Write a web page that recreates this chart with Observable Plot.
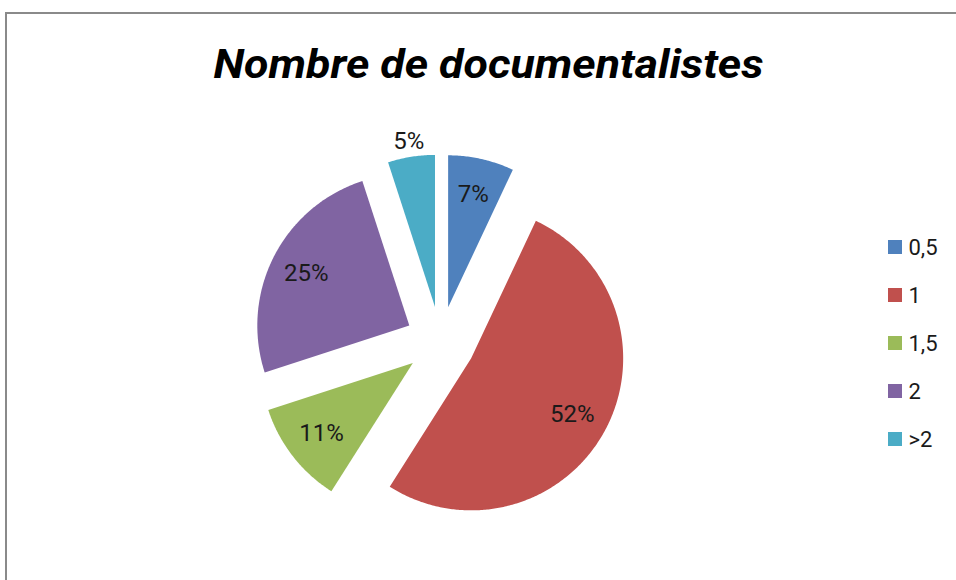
<!DOCTYPE html>
<html>
<head>
<meta charset="utf-8">
<script src="https://cdn.jsdelivr.net/npm/d3@7"></script>
<script src="https://cdn.jsdelivr.net/npm/@observablehq/plot@0.6"></script>
<style>
  html, body { margin: 0; padding: 0; background: #fff; overflow: hidden; }
  #wrap { position: relative; width: 956px; height: 580px; overflow: hidden; }
  #border { position: absolute; left: 5px; top: 12px; width: 1000px; height: 1000px;
            border-top: 2px solid #8a8a8a; border-left: 2px solid #8a8a8a; }
  #chart { position: absolute; left: 0; top: 0; }
</style>
</head>
<body>
<div id="wrap"><div id="border"></div><div id="chart"></div></div>
<script>
// ---- data ----
const title = "Nombre de documentalistes";
const categories = ["0,5", "1", "1,5", "2", ">2"];
const values = [7, 52, 11, 25, 5];
const percentLabels = ["7%", "52%", "11%", "25%", "5%"];
const palette = ["#4F81BD", "#C0504D", "#9BBB59", "#8064A2", "#4BACC6"];

// ---- layout ----
const W = 956, H = 580;
const cx = 440, cy = 341, R = 152, explode = 35;
const legendX = 888, legendY0 = 247, legendStep = 48, sw = 14;

const rows = categories.map((c, i) => ({category: c, value: values[i], label: percentLabels[i]}));
const arcs = d3.pie().sort(null).value(d => d.value)(rows);
const dir = a => [Math.sin(a), -Math.cos(a)];

const poly = [];
const labels = [];
arcs.forEach(a => {
  const mid = (a.startAngle + a.endAngle) / 2;
  const [mx, my] = dir(mid);
  const ax = cx + explode * mx, ay = cy + explode * my;
  poly.push({category: a.data.category, x: ax, y: ay});
  const n = Math.max(8, Math.ceil((a.endAngle - a.startAngle) / 0.01));
  for (let k = 0; k <= n; k++) {
    const t = a.startAngle + (a.endAngle - a.startAngle) * k / n;
    const [dx, dy] = dir(t);
    poly.push({category: a.data.category, x: ax + R * dx, y: ay + R * dy});
  }
  const lr = a.data.value < 6 ? 1.1 * R : 0.76 * R;
  labels.push({text: a.data.label, x: ax + lr * mx, y: ay + lr * my});
});

const legend = categories.map((c, i) => ({category: c, y: legendY0 + i * legendStep}));

const chart = Plot.plot({
  width: W, height: H, margin: 0,
  style: {fontFamily: "Roboto, 'Open Sans', sans-serif", background: "transparent", overflow: "visible"},
  x: {type: "identity", axis: null},
  y: {type: "identity", axis: null},
  color: {domain: categories, range: palette},
  marks: [
    Plot.line(poly, {x: "x", y: "y", z: "category", fill: "category", stroke: "none", curve: "linear-closed"}),
    Plot.text(labels, {x: "x", y: "y", text: "text", fontSize: 24, fill: "#1a1a1a"}),
    Plot.rect(legend, {x1: legendX, x2: legendX + sw, y1: d => d.y - sw / 2, y2: d => d.y + sw / 2, fill: "category"}),
    Plot.text(legend, {x: legendX + sw + 6, y: "y", text: "category", textAnchor: "start", fontSize: 22, fill: "#1a1a1a"}),
    Plot.text([title], {x: 488, y: 65, text: d => d, fontSize: 40, fontWeight: "bold", fontStyle: "italic", fill: "#000"})
  ]
});
document.getElementById("chart").appendChild(chart);
d3.select(chart).selectAll("text").filter(function() { return this.textContent === title; })
  .attr("textLength", 550).attr("lengthAdjust", "spacingAndGlyphs");
</script>
</body>
</html>
